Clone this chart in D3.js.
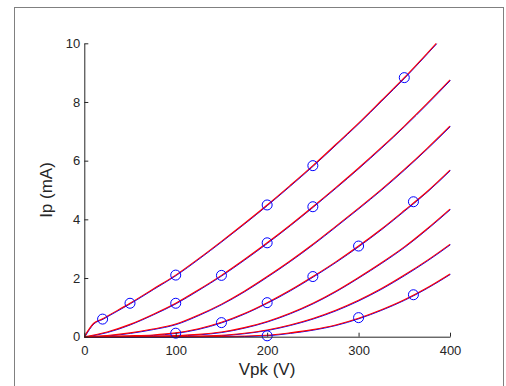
<!DOCTYPE html>
<html>
<head>
<meta charset="utf-8">
<script src="https://cdn.jsdelivr.net/npm/d3@7"></script>
<style>
  body { margin: 0; background: #fff; }
  svg { display: block; font-family: "Liberation Sans", Arial, sans-serif; }
</style>
</head>
<body>
<svg id="svg" width="506" height="386"></svg>
<script>
// plate curves, one array per grid step: [Vpk, Ip]
var curve1 = [[0,0],[10,0.45],[20,0.61],[25,0.70],[50,1.14],[75,1.62],[100,2.10],[125,2.66],[150,3.25],[175,3.86],[200,4.49],[225,5.15],[250,5.83],[275,6.55],[300,7.28],[325,8.05],[350,8.83],[375,9.66],[385,10.0]];
var curve2 = [[0,0],[25,0.16],[50,0.42],[75,0.76],[100,1.14],[125,1.60],[150,2.09],[175,2.63],[200,3.20],[225,3.80],[250,4.43],[275,5.08],[300,5.75],[325,6.45],[350,7.18],[375,7.95],[400,8.75]];
var curve3 = [[0,0],[25,0.04],[50,0.13],[75,0.26],[100,0.43],[125,0.74],[150,1.11],[175,1.55],[200,2.05],[225,2.58],[250,3.15],[275,3.76],[300,4.38],[325,5.02],[350,5.70],[375,6.42],[400,7.18]];
var curve4 = [[0,0],[25,0.01],[50,0.03],[75,0.06],[100,0.13],[125,0.27],[150,0.49],[175,0.79],[200,1.16],[225,1.58],[250,2.05],[275,2.55],[300,3.09],[325,3.67],[350,4.30],[375,4.95],[400,5.68]];
var curve5 = [[0,0],[50,0.01],[100,0.04],[125,0.08],[150,0.16],[175,0.31],[200,0.52],[225,0.80],[250,1.14],[275,1.55],[300,2.02],[325,2.52],[350,3.06],[375,3.68],[400,4.35]];
var curve6 = [[0,0],[100,0.01],[150,0.05],[175,0.12],[200,0.23],[225,0.40],[250,0.62],[275,0.90],[300,1.24],[325,1.64],[350,2.10],[375,2.60],[400,3.15]];
var curve7 = [[0,0],[100,0],[150,0.01],[200,0.05],[225,0.13],[250,0.24],[275,0.40],[300,0.63],[325,0.92],[350,1.26],[375,1.67],[400,2.14]];

// measured points (circles)
var measured = [[20,0.60],[50,1.14],[100,2.10],[200,4.49],[250,5.83],[350,8.83],
                [100,1.14],[150,2.09],[200,3.20],[250,4.43],
                [100,0.12],[150,0.48],[200,1.16],[250,2.05],[300,3.09],[360,4.60],
                [200,0.03],[300,0.65],[360,1.43]];

var xTicks = [0, 100, 200, 300, 400];
var yTicks = [0, 2, 4, 6, 8, 10];

var curves = [curve1, curve2, curve3, curve4, curve5, curve6, curve7];

var svg = d3.select("#svg");

// figure frame
svg.append("rect")
    .attr("x", 14.5).attr("y", 7.5)
    .attr("width", 489).attr("height", 400)
    .attr("fill", "none")
    .attr("stroke", "#808080");

var x = d3.scaleLinear().domain([0, 400]).range([84.3, 450]);
var y = d3.scaleLinear().domain([0, 10]).range([336.7, 43.3]);

var line = d3.line()
    .x(function(d) { return x(d[0]); })
    .y(function(d) { return y(d[1]); })
    .curve(d3.curveMonotoneX);

var plot = svg.append("g");

// blue model curves underneath, red fitted curves on top
plot.selectAll("path.blue")
    .data(curves)
  .enter().append("path")
    .attr("class", "blue")
    .attr("d", line)
    .attr("transform", "translate(0.4,0.5)")
    .attr("fill", "none")
    .attr("stroke", "#0000ff")
    .attr("stroke-width", 1);

plot.selectAll("path.red")
    .data(curves)
  .enter().append("path")
    .attr("class", "red")
    .attr("d", line)
    .attr("fill", "none")
    .attr("stroke", "#ff0000")
    .attr("stroke-width", 1.1);

plot.selectAll("circle")
    .data(measured)
  .enter().append("circle")
    .attr("cx", function(d) { return x(d[0]); })
    .attr("cy", function(d) { return y(d[1]); })
    .attr("r", 5)
    .attr("fill", "none")
    .attr("stroke", "#0000ff")
    .attr("stroke-width", 1);

// axes, MATLAB style inward ticks
var xAxis = svg.append("g")
    .attr("transform", "translate(0," + y(0) + ")")
    .call(d3.axisBottom(x).tickValues(xTicks).tickSizeInner(-4).tickSizeOuter(0).tickPadding(9));

var yAxis = svg.append("g")
    .attr("transform", "translate(" + x(0) + ",0)")
    .call(d3.axisLeft(y).tickValues(yTicks).tickSizeInner(-4).tickSizeOuter(0).tickPadding(4));

svg.selectAll(".domain, .tick line").attr("stroke", "#262626").attr("stroke-width", 1);
svg.selectAll(".tick text")
    .attr("fill", "#262626")
    .style("font-size", "13px")
    .style("font-family", "Liberation Sans, Arial, sans-serif");

svg.append("text")
    .attr("x", 267).attr("y", 375)
    .attr("text-anchor", "middle")
    .attr("fill", "#262626")
    .style("font-size", "17px")
    .text("Vpk (V)");

svg.append("text")
    .attr("transform", "translate(52,190) rotate(-90)")
    .attr("text-anchor", "middle")
    .attr("fill", "#262626")
    .style("font-size", "17px")
    .text("Ip (mA)");
</script>
</body>
</html>
